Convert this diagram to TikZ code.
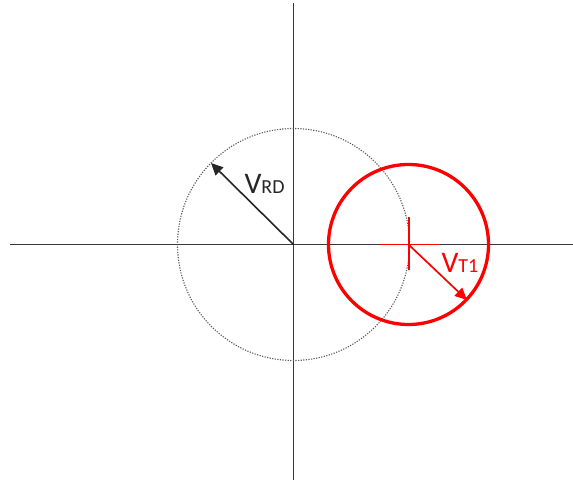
\documentclass[tikz,border=0pt]{standalone}
\usepackage{fontspec}
\setmainfont{Carlito}
\usetikzlibrary{arrows.meta}
\begin{document}
\begin{tikzpicture}[x=1bp,y=-1bp,
  axisline/.style={draw=black!78, line width=1.7bp},
  dotcircle/.style={draw=black!65, line width=1.1bp, dash pattern=on 1.2bp off 1.4bp},
  redcircle/.style={draw=red, line width=3.3bp},
  redmark/.style={draw=red, line width=1.7bp},
  blackvec/.style={draw=black!85, line width=1.6bp, -{Triangle[length=12bp,width=11bp]}},
  redvec/.style={draw=red, line width=1.7bp, -{Triangle[length=12bp,width=11bp]}},
  lab/.style={anchor=base west, inner sep=0pt, outer sep=0pt}]
\useasboundingbox (0,0) rectangle (573,483);
\coordinate (O) at (293.5,244.5);
\coordinate (L) at (10,244.5);
\coordinate (R) at (573,244.5);
\coordinate (T) at (293.5,3);
\coordinate (B) at (293.5,480);
\coordinate (C) at (408.5,244.5);
\coordinate (S1) at (380,244.5);
\coordinate (S2) at (440,244.5);
\coordinate (K1) at (409,217);
\coordinate (K2) at (409,270);
\coordinate (A) at (211,163);
\coordinate (P) at (467,300);
\draw[axisline] (L) -- (R);
\draw[axisline] (T) -- (B);
\draw[dotcircle] (O) circle[radius=116bp];
\draw[redcircle] (C) circle[radius=80bp];
\draw[redmark] (S1) -- (S2);
\draw[redmark] (K1) -- (K2);
\draw[blackvec] (O) -- (A);
\draw[redvec] (C) -- (P);
\node[lab, text=black!85] (lrd) at (244.5,194) {\fontsize{30}{30}\selectfont V\fontsize{20}{20}\selectfont RD};
\node[lab, text=red] (lt1) at (441.5,272) {\fontsize{30}{30}\selectfont V\fontsize{20}{20}\selectfont T1};
\end{tikzpicture}
\end{document}
